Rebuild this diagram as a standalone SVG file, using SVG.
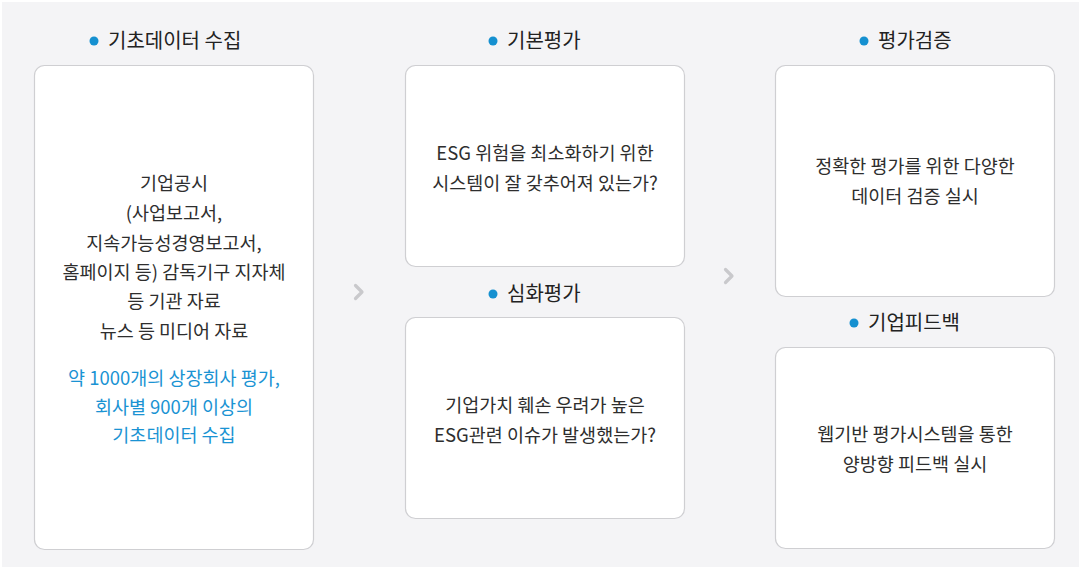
<svg xmlns="http://www.w3.org/2000/svg" width="1081" height="569" viewBox="0 0 1081 569">
<style>
.bg{fill:#f4f4f6}
.box{fill:#fff;stroke:#cfcfd2;stroke-width:1.2}
.t{font-family:"Noto Sans CJK KR","Noto Sans",sans-serif;font-size:18.5px;fill:#2e2e2e;text-anchor:middle}
.b{fill:#1a93d3}
.h{font-family:"Noto Sans CJK KR","Noto Sans",sans-serif;font-size:20px;fill:#222}
.dot{fill:#1590d0}
.chev{fill:none;stroke:#c9c9cc;stroke-width:3.2;stroke-linecap:round;stroke-linejoin:round}
</style>
<rect class="bg" x="2" y="2" width="1077" height="565"/>
<g id="connectors">
<path class="chev" d="M355.5 285.5 L362 292 L355.5 298.5"/>
<path class="chev" d="M725.5 269.5 L732 276 L725.5 282.5"/>
</g>
<g id="node-collect">
<circle class="dot" cx="94" cy="41" r="4.5"/>
<text class="h" x="108" y="48">기초데이터 수집</text>
<rect class="box" x="34.5" y="65.5" width="279" height="484" rx="10"/>
<text class="t" x="174" y="190">기업공시</text>
<text class="t" x="174" y="220">(사업보고서,</text>
<text class="t" x="174" y="250">지속가능성경영보고서,</text>
<text class="t" x="174" y="279">홈페이지 등) 감독기구 지자체</text>
<text class="t" x="174" y="308">등 기관 자료</text>
<text class="t" x="174" y="338">뉴스 등 미디어 자료</text>
<text class="t b" x="174" y="385">약 1000개의 상장회사 평가,</text>
<text class="t b" x="174" y="414">회사별 900개 이상의</text>
<text class="t b" x="174" y="442">기초데이터 수집</text>
</g>
<g id="node-basic">
<circle class="dot" cx="493" cy="41" r="4.5"/>
<text class="h" x="507" y="48">기본평가</text>
<rect class="box" x="405.5" y="65.5" width="279" height="201" rx="10"/>
<text class="t" x="545" y="160">ESG 위험을 최소화하기 위한</text>
<text class="t" x="545" y="190">시스템이 잘 갖추어져 있는가?</text>
</g>
<g id="node-deep">
<circle class="dot" cx="493" cy="294" r="4.5"/>
<text class="h" x="507" y="301">심화평가</text>
<rect class="box" x="405.5" y="317.5" width="279" height="201" rx="10"/>
<text class="t" x="545" y="412">기업가치 훼손 우려가 높은</text>
<text class="t" x="545" y="442">ESG관련 이슈가 발생했는가?</text>
</g>
<g id="node-verify">
<circle class="dot" cx="864" cy="41" r="4.5"/>
<text class="h" x="878" y="48">평가검증</text>
<rect class="box" x="775.5" y="65.5" width="279" height="231" rx="10"/>
<text class="t" x="915" y="173">정확한 평가를 위한 다양한</text>
<text class="t" x="915" y="203">데이터 검증 실시</text>
</g>
<g id="node-feedback">
<circle class="dot" cx="854" cy="323" r="4.5"/>
<text class="h" x="868" y="330">기업피드백</text>
<rect class="box" x="775.5" y="347.5" width="279" height="201" rx="10"/>
<text class="t" x="915" y="441">웹기반 평가시스템을 통한</text>
<text class="t" x="915" y="471">양방향 피드백 실시</text>
</g>
</svg>
